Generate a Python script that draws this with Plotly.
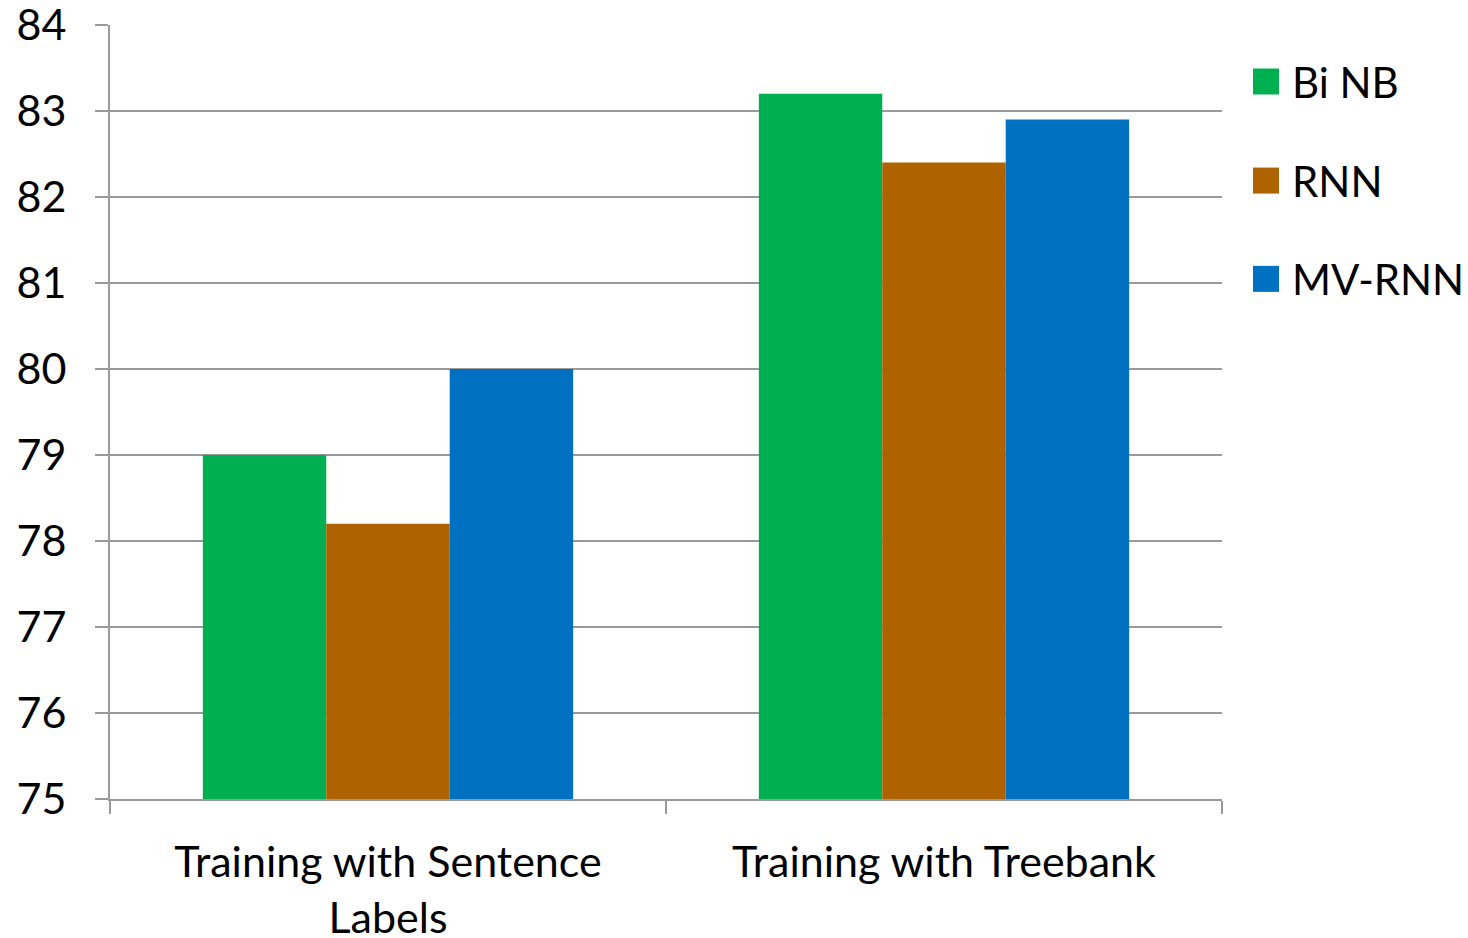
import plotly.graph_objects as go

categories = ["Training with Sentence<br>Labels", "Training with Treebank"]
series_names = ["Bi NB", "RNN", "MV-RNN"]
bi_nb = [79.0, 83.2]
rnn = [78.2, 82.4]
mv_rnn = [80.0, 82.9]
colors = ["#00B050", "#AF6300", "#0070C0"]
y_ticks = list(range(75, 85))

FONT = "Lato"
FSIZE = 43
GRID = "#9A9A9A"

fig = go.Figure()
for name, vals, col in zip(series_names, [bi_nb, rnn, mv_rnn], colors):
    fig.add_trace(go.Bar(x=categories, y=vals, name=name, marker_color=col,
                         marker_line_width=0, showlegend=False))

# legend drawn as square swatches and labels to the right of the plot
legend_y = [0.927, 0.799, 0.672]
for name, col, yp in zip(series_names, colors, legend_y):
    fig.add_shape(type="rect", xref="paper", yref="paper",
                  xsizemode="pixel", ysizemode="pixel",
                  xanchor=1.0, yanchor=yp,
                  x0=31, x1=57, y0=-13, y1=13,
                  fillcolor=col, line_width=0)
    fig.add_annotation(xref="paper", yref="paper", x=1.0, y=yp,
                       xshift=68, xanchor="left", yanchor="middle",
                       text=name, showarrow=False,
                       font=dict(family=FONT, size=42, color="black"))

fig.update_layout(
    width=1468, height=938,
    margin=dict(l=110, r=246, t=25, b=139),
    paper_bgcolor="white", plot_bgcolor="white",
    barmode="group", bargap=0.334, bargroupgap=0,
    font=dict(family=FONT, size=FSIZE, color="black"),
)
fig.update_yaxes(range=[75, 84], tickvals=y_ticks, showgrid=True, automargin=False,
                 gridcolor=GRID, gridwidth=2, showline=True, linecolor=GRID,
                 linewidth=2, ticks="outside", ticklen=13, tickcolor=GRID,
                 tickwidth=2, ticklabelstandoff=20, zeroline=False,
                 ticklabeloverflow="allow",
                 tickfont=dict(family=FONT, size=FSIZE, color="black"))
fig.update_xaxes(showline=True, linecolor=GRID, linewidth=2, automargin=False,
                 ticks="outside", tickson="boundaries", ticklen=13,
                 tickcolor=GRID, tickwidth=2, showgrid=False,
                 ticklabelstandoff=24, ticklabeloverflow="allow",
                 tickfont=dict(family=FONT, size=FSIZE, color="black"))

fig.write_html("out.html")
